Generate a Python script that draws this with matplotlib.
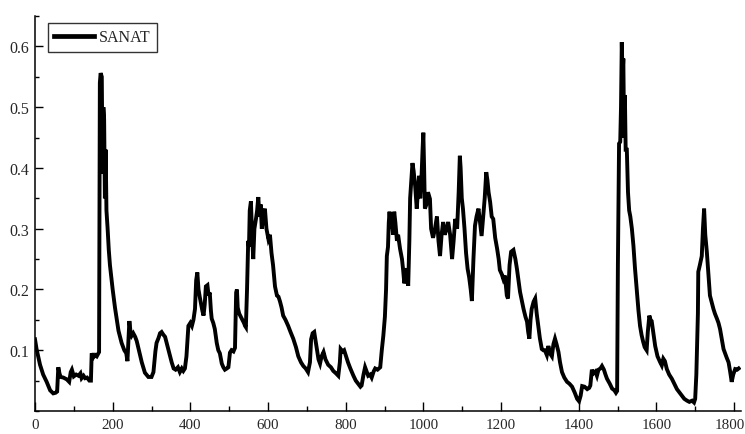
import matplotlib
matplotlib.use("Agg")
import matplotlib.pyplot as plt
from matplotlib.ticker import MultipleLocator
from matplotlib.transforms import ScaledTranslation

# Series SANAT: observation index and value
obs = [0, 4, 13, 21, 30, 39, 47, 53, 57, 60, 63, 66, 73, 82, 88, 92, 95, 100, 106, 112,
       117, 120, 125, 129, 134, 140, 144, 146, 150, 155, 159, 165, 167, 169, 172, 174, 176, 178, 180, 182,
       184, 187, 190, 193, 200, 206, 215, 223, 230, 235, 238, 241, 243, 246, 249, 253, 258, 262, 266, 275,
       283, 292, 300, 305, 310, 313, 318, 322, 326, 330, 335, 339, 344, 348, 352, 357, 362, 368, 373, 378,
       382, 386, 390, 393, 395, 400, 404, 408, 412, 415, 418, 421, 425, 428, 431, 434, 437, 440, 444, 447,
       450, 453, 455, 459, 463, 468, 472, 476, 481, 485, 489, 494, 498, 502, 506, 511, 515, 518, 520, 522,
       526, 530, 534, 538, 541, 543, 546, 549, 551, 553, 556, 559, 562, 565, 569, 572, 575, 578, 581, 584,
       588, 592, 596, 601, 605, 609, 613, 618, 623, 627, 631, 635, 639, 645, 652, 658, 665, 672, 678, 685,
       691, 697, 703, 708, 711, 715, 719, 722, 726, 730, 734, 738, 743, 748, 755, 762, 768, 775, 781, 785,
       787, 792, 796, 801, 806, 812, 820, 826, 833, 838, 841, 846, 850, 854, 858, 863, 867, 872, 876, 882,
       889, 893, 897, 901, 904, 906, 909, 911, 913, 916, 919, 922, 925, 928, 932, 935, 940, 945, 948, 951,
       953, 957, 961, 964, 966, 969, 972, 975, 979, 983, 986, 989, 992, 995, 998, 1000, 1002, 1004, 1008, 1012,
       1017, 1020, 1025, 1030, 1035, 1039, 1043, 1047, 1051, 1055, 1060, 1064, 1069, 1074, 1078, 1082, 1087, 1091, 1094, 1096,
       1099, 1102, 1106, 1110, 1114, 1118, 1122, 1125, 1129, 1133, 1137, 1142, 1146, 1150, 1154, 1158, 1162, 1165, 1168, 1172,
       1176, 1180, 1185, 1190, 1194, 1197, 1202, 1206, 1210, 1215, 1218, 1222, 1226, 1232, 1237, 1241, 1245, 1249, 1254, 1258,
       1263, 1267, 1270, 1273, 1276, 1279, 1284, 1288, 1292, 1296, 1300, 1305, 1309, 1313, 1318, 1322, 1326, 1331, 1335, 1339,
       1343, 1348, 1352, 1357, 1363, 1370, 1376, 1383, 1390, 1396, 1401, 1405, 1409, 1415, 1422, 1427, 1430, 1434, 1438, 1443,
       1447, 1451, 1456, 1460, 1465, 1469, 1473, 1480, 1486, 1492, 1496, 1499, 1501, 1504, 1507, 1509, 1511, 1513, 1515, 1517,
       1519, 1521, 1524, 1527, 1530, 1533, 1537, 1541, 1545, 1550, 1554, 1558, 1562, 1566, 1570, 1575, 1578, 1582, 1585, 1588,
       1592, 1597, 1603, 1610, 1614, 1618, 1622, 1627, 1633, 1640, 1646, 1653, 1660, 1666, 1672, 1679, 1685, 1692, 1697, 1700,
       1703, 1705, 1707, 1708, 1712, 1717, 1720, 1723, 1726, 1730, 1734, 1738, 1742, 1747, 1751, 1756, 1760, 1764, 1768, 1773,
       1777, 1781, 1786, 1790, 1794, 1798, 1803, 1808, 1812]

sanat = [0.118, 0.102, 0.076, 0.060, 0.048, 0.034, 0.029, 0.030, 0.032, 0.072, 0.062, 0.056, 0.055, 0.052, 0.048, 0.064, 0.068, 0.057, 0.060, 0.058,
         0.062, 0.054, 0.058, 0.054, 0.055, 0.050, 0.050, 0.095, 0.088, 0.092, 0.090, 0.097, 0.540, 0.556, 0.550, 0.390, 0.500, 0.480, 0.350, 0.430,
         0.330, 0.300, 0.265, 0.240, 0.200, 0.170, 0.132, 0.112, 0.100, 0.095, 0.082, 0.120, 0.148, 0.130, 0.124, 0.128, 0.122, 0.115, 0.104, 0.080,
         0.063, 0.056, 0.056, 0.064, 0.098, 0.112, 0.120, 0.128, 0.130, 0.126, 0.122, 0.112, 0.100, 0.090, 0.080, 0.070, 0.068, 0.072, 0.064, 0.070,
         0.066, 0.070, 0.090, 0.120, 0.140, 0.145, 0.140, 0.150, 0.168, 0.215, 0.228, 0.200, 0.185, 0.175, 0.165, 0.157, 0.175, 0.205, 0.207, 0.190,
         0.195, 0.165, 0.152, 0.145, 0.135, 0.112, 0.100, 0.095, 0.078, 0.072, 0.068, 0.070, 0.072, 0.096, 0.100, 0.098, 0.104, 0.195, 0.200, 0.170,
         0.160, 0.155, 0.150, 0.145, 0.140, 0.138, 0.200, 0.280, 0.270, 0.330, 0.345, 0.290, 0.250, 0.300, 0.316, 0.330, 0.352, 0.320, 0.340, 0.300,
         0.320, 0.333, 0.300, 0.283, 0.290, 0.260, 0.240, 0.205, 0.190, 0.188, 0.180, 0.170, 0.157, 0.150, 0.140, 0.130, 0.119, 0.105, 0.090, 0.080,
         0.074, 0.070, 0.064, 0.080, 0.118, 0.128, 0.130, 0.118, 0.102, 0.085, 0.078, 0.090, 0.097, 0.085, 0.076, 0.072, 0.066, 0.062, 0.058, 0.080,
         0.102, 0.098, 0.100, 0.090, 0.080, 0.070, 0.058, 0.050, 0.044, 0.040, 0.042, 0.060, 0.072, 0.065, 0.058, 0.060, 0.055, 0.065, 0.070, 0.068,
         0.072, 0.100, 0.124, 0.155, 0.200, 0.255, 0.270, 0.310, 0.328, 0.300, 0.316, 0.290, 0.328, 0.310, 0.280, 0.290, 0.267, 0.250, 0.232, 0.210,
         0.217, 0.235, 0.206, 0.280, 0.350, 0.380, 0.408, 0.395, 0.370, 0.333, 0.360, 0.387, 0.350, 0.380, 0.430, 0.458, 0.400, 0.333, 0.340, 0.360,
         0.349, 0.300, 0.285, 0.300, 0.320, 0.280, 0.255, 0.290, 0.311, 0.290, 0.300, 0.311, 0.290, 0.250, 0.280, 0.316, 0.300, 0.360, 0.420, 0.400,
         0.350, 0.333, 0.300, 0.260, 0.234, 0.220, 0.200, 0.181, 0.250, 0.305, 0.320, 0.333, 0.310, 0.288, 0.320, 0.350, 0.393, 0.380, 0.360, 0.344,
         0.320, 0.316, 0.285, 0.267, 0.250, 0.232, 0.225, 0.217, 0.223, 0.190, 0.185, 0.240, 0.262, 0.265, 0.250, 0.234, 0.215, 0.196, 0.180, 0.168,
         0.155, 0.147, 0.130, 0.119, 0.150, 0.168, 0.180, 0.185, 0.160, 0.140, 0.120, 0.102, 0.100, 0.100, 0.092, 0.107, 0.095, 0.090, 0.110, 0.119,
         0.110, 0.097, 0.080, 0.064, 0.055, 0.048, 0.045, 0.040, 0.030, 0.020, 0.016, 0.025, 0.041, 0.040, 0.036, 0.038, 0.042, 0.068, 0.062, 0.065,
         0.058, 0.068, 0.070, 0.074, 0.068, 0.060, 0.053, 0.045, 0.037, 0.034, 0.030, 0.033, 0.240, 0.440, 0.443, 0.500, 0.607, 0.550, 0.580, 0.450,
         0.520, 0.430, 0.430, 0.360, 0.330, 0.320, 0.300, 0.272, 0.235, 0.196, 0.165, 0.140, 0.125, 0.114, 0.105, 0.100, 0.130, 0.157, 0.150, 0.148,
         0.130, 0.107, 0.090, 0.080, 0.075, 0.086, 0.082, 0.069, 0.060, 0.053, 0.045, 0.036, 0.030, 0.025, 0.020, 0.017, 0.015, 0.017, 0.014, 0.020,
         0.060, 0.107, 0.160, 0.229, 0.240, 0.255, 0.300, 0.333, 0.290, 0.262, 0.225, 0.190, 0.180, 0.168, 0.160, 0.152, 0.145, 0.135, 0.120, 0.102,
         0.095, 0.088, 0.080, 0.065, 0.048, 0.060, 0.069, 0.068, 0.070]

series_name = "SANAT"
x_major, x_minor = 200, 100
y_major, y_minor = 0.1, 0.05
y_ticks = [0.1, 0.2, 0.3, 0.4, 0.5, 0.6]
y_tick_labels = ["0.1", "0.2", "0.3", "0.4", "0.5", "0.6"]

plt.rcParams["font.family"] = ["Liberation Serif", "DejaVu Serif"]
label_color = "#262626"

fig = plt.figure(figsize=(7.45, 4.35), dpi=100)
ax = fig.add_axes([35 / 745, 23 / 435, 706 / 745, 395 / 435])

ax.plot(obs, sanat, color="black", lw=2.8, solid_joinstyle="miter", label=series_name)

ax.set_xlim(0, 1818)
ax.set_ylim(0, 0.65)
ax.xaxis.set_major_locator(MultipleLocator(x_major))
ax.xaxis.set_minor_locator(MultipleLocator(x_minor))
ax.yaxis.set_minor_locator(MultipleLocator(y_minor))
ax.set_yticks(y_ticks)
ax.set_yticklabels(y_tick_labels)

for side in ("top", "right"):
    ax.spines[side].set_visible(False)
for side in ("left", "bottom"):
    ax.spines[side].set_linewidth(1.1)

ax.tick_params(axis="x", which="major", direction="in", length=6.5, width=1.0,
               labelsize=10.8, labelcolor=label_color, pad=5)
ax.tick_params(axis="x", which="minor", direction="in", length=3.6, width=1.0)
ax.tick_params(axis="y", which="major", direction="in", length=5.5, width=1.0,
               labelsize=11.5, labelcolor=label_color, pad=4)
ax.tick_params(axis="y", which="minor", direction="in", length=3.0, width=1.0)

# keep the last x tick label inside the figure edge
fig.canvas.draw()
last = [t for t in ax.get_xticklabels() if t.get_text() == "1800"]
for t in last:
    t.set_transform(t.get_transform() + ScaledTranslation(-4 / 100, 0, fig.dpi_scale_trans))

leg = ax.legend(loc="upper left", bbox_to_anchor=(0.0184, 0.982), borderaxespad=0,
                fancybox=False, frameon=True, edgecolor="black", fontsize=11.5,
                handlelength=2.5, handletextpad=0.3, borderpad=0.4)
leg.get_frame().set_linewidth(1.0)
for t in leg.get_texts():
    t.set_color(label_color)
for line in leg.get_lines():
    line.set_linewidth(3.4)

fig.savefig("out.png", dpi=100)
